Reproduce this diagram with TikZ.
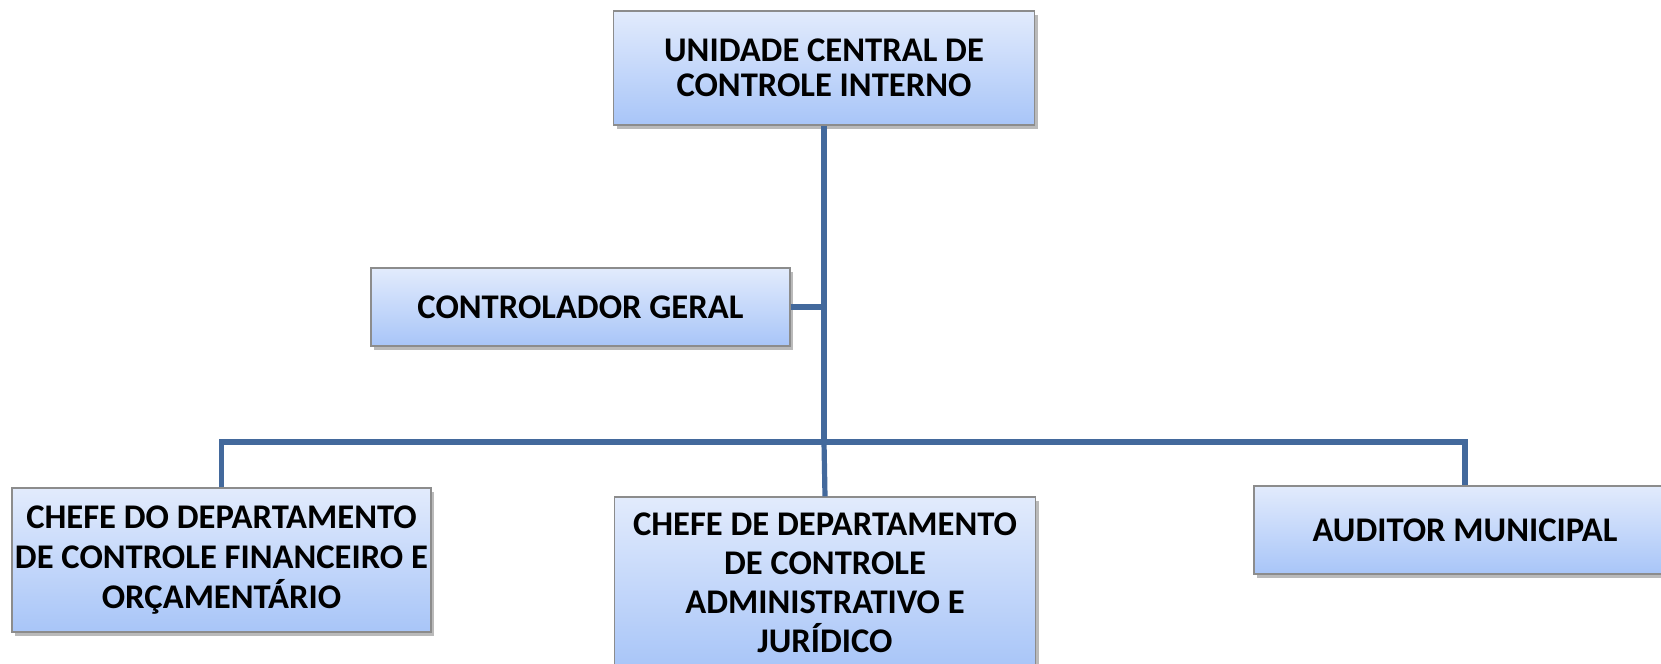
\documentclass[tikz,border=0pt]{standalone}
\usepackage{fontspec}
\setmainfont{Carlito}
\usetikzlibrary{positioning}
\usetikzlibrary{shadows}

\definecolor{linkblue}{RGB}{67,105,156}
\definecolor{boxtop}{RGB}{226,235,252}
\definecolor{boxbottom}{RGB}{168,197,248}
\definecolor{boxline}{RGB}{140,140,140}

\tikzset{
  orgbox/.style={draw=boxline, line width=0.6pt, top color=boxtop, bottom color=boxbottom,
    drop shadow={shadow xshift=1.5pt, shadow yshift=-2pt, opacity=0.45, fill=black!60},
    align=center, inner sep=0pt, font=\fontsize{17.3}{17.5}\selectfont\bfseries},
  link/.style={draw=linkblue, line width=2.6pt}
}

\begin{document}
\begin{tikzpicture}[x=0.5pt, y=-0.5pt]
\useasboundingbox (0,0) rectangle (1661,664);
\node[orgbox, minimum width=421*0.5pt, minimum height=114*0.5pt] (ucci) at (824,68)
  {UNIDADE CENTRAL DE\\CONTROLE INTERNO};
\node[orgbox, minimum width=419*0.5pt, minimum height=78*0.5pt] (cg) at (580.5,307)
  {CONTROLADOR GERAL};
\node[orgbox, minimum width=419*0.5pt, minimum height=144*0.5pt,
  font=\fontsize{17.3}{20}\selectfont\bfseries] (dcfo) at (221.5,560)
  {CHEFE DO DEPARTAMENTO\\DE CONTROLE FINANCEIRO E\\ORÇAMENTÁRIO};
\node[orgbox, minimum width=421*0.5pt, minimum height=172*0.5pt,
  font=\fontsize{17.3}{19.5}\selectfont\bfseries] (dcaj) at (825,583)
  {CHEFE DE DEPARTAMENTO\\DE CONTROLE\\ADMINISTRATIVO E\\JURÍDICO};
\node[orgbox, minimum width=422*0.5pt, minimum height=88*0.5pt] (aud) at (1465,530)
  {AUDITOR MUNICIPAL};
\coordinate (bus) at (824,442);
% connectors
\draw[link] (ucci.south) -- (bus);
\draw[link] (cg.east) -- (cg.east -| bus);
\draw[link] (dcfo.north) |- (bus) -| (aud.north);
\draw[link] (bus) -- (dcaj.north);
\end{tikzpicture}
\end{document}
